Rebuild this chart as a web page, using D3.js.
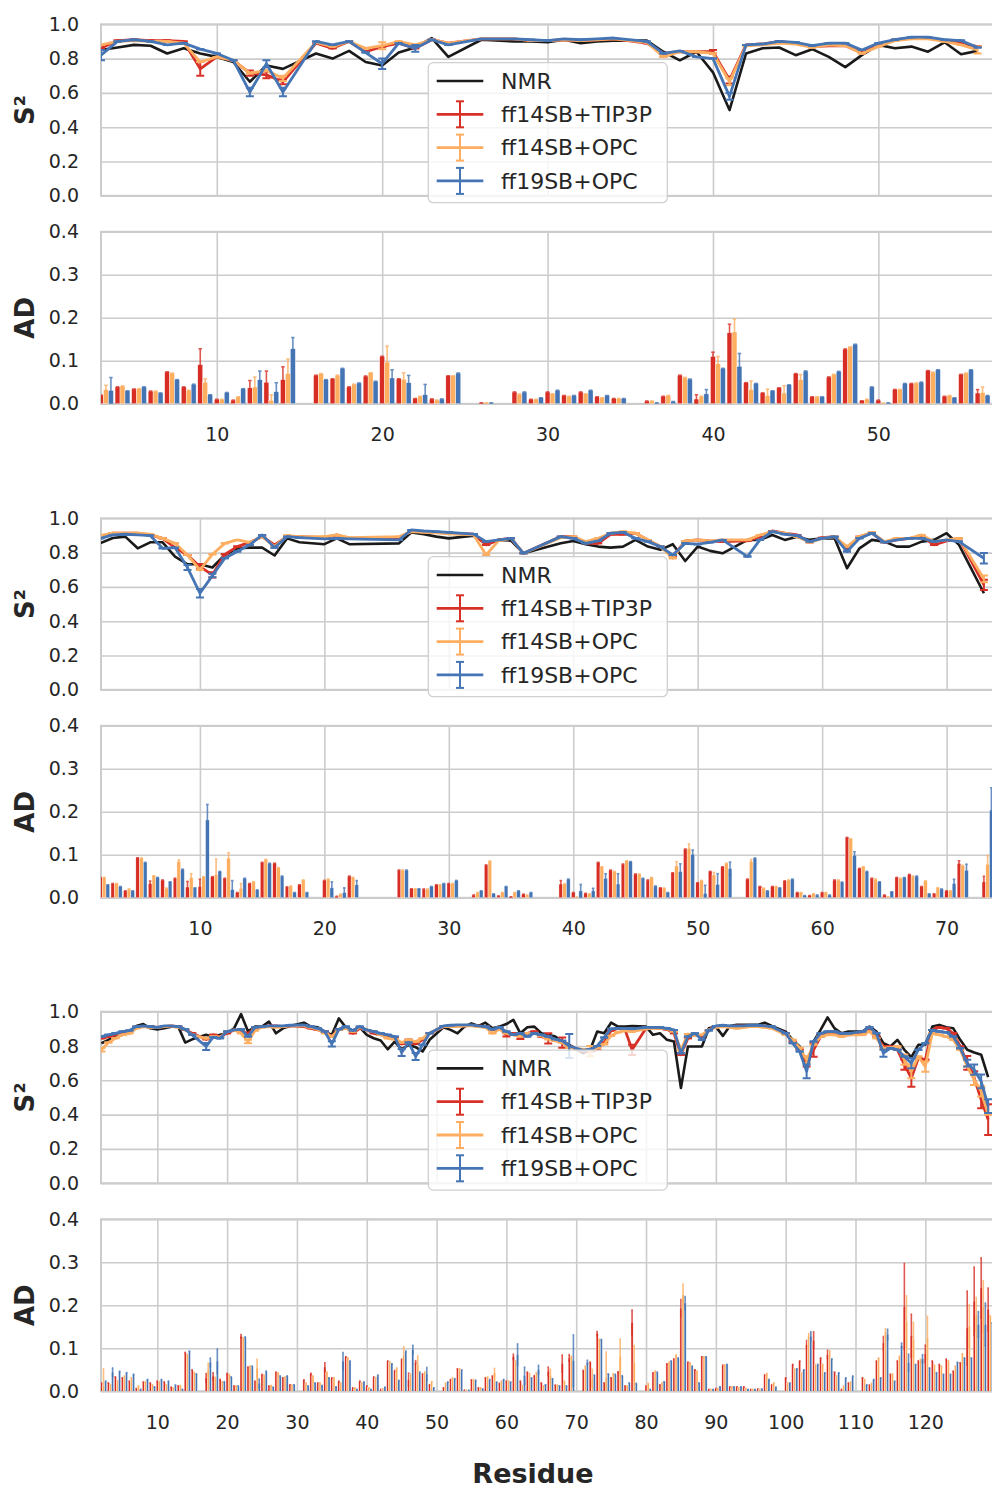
<!DOCTYPE html>
<html>
<head>
<meta charset="utf-8">
<script src="https://cdn.jsdelivr.net/npm/d3@7"></script>
<style>
  body { margin: 0; background: #fff; }
  text { font-family: "DejaVu Sans", sans-serif; }
</style>
</head>
<body>
<svg id="fig" width="992" height="1488"></svg>
<script>
// ---------- Protein 1 : residues 3..56 ----------
const first1 = 3;
const s2Nmr1 = [.85,.865,.88,.875,.83,.86,.83,.81,.78,.665, .76,.74,null,.83,.80,.845,.78,.76,.835,.865,
  .92,.81,null,.91,null,.90,.90,.895,.91,.89, .90,.905,null,.905,.84,.79,.84,.72,.50,.83,
  .86,.865,.82,.855,.81,.75,.82,.88,.86,.87, .84,.895,.825,.845];
const s2Tip1 = [.86,.905,.91,.905,.905,.90,.74,.81,.79,.715, .705,.665,null,.89,.86,.90,.84,.87,.89,.86,
  .91,.89,null,.915,null,.915,.905,.905,.91,.905, .91,.915,null,.89,.83,.84,.84,.84,.675,.88,
  .885,.90,.89,.87,.875,.875,.835,.88,.91,.92, .92,.905,.89,.87];
const s2Opc1 = [.88,.90,.905,.90,.90,.89,.78,.81,.79,.715, .73,.685,null,.895,.87,.90,.86,.875,.90,.88,
  .91,.89,null,.915,null,.915,.905,.905,.91,.905, .91,.915,null,.895,.81,.84,.84,.83,.665,.875,
  .88,.89,.885,.865,.88,.875,.83,.87,.905,.915, .915,.90,.88,.85];
const s2Ff19_1 = [.82,.90,.91,.90,.88,.89,.855,.83,.79,.605, .77,.605,null,.90,.88,.90,.835,.77,.89,.86,
  .91,.88,null,.915,null,.915,.91,.905,.915,.91, .915,.92,null,.90,.83,.845,.81,.80,.58,.88,
  .885,.90,.895,.875,.89,.89,.85,.89,.91,.925, .925,.91,.905,.865];
const adTip1 = [.02,.039,.034,.029,.074,.039,.091,.01,.008,.037, .05,.056,null,.066,.058,.039,.064,.11,.058,.012,
  .011,.065,null,.002,null,.027,.01,.027,.019,.027, .016,.012,null,.006,.017,.066,.011,.11,.165,.049,
  .025,.037,.07,.016,.062,.127,.007,.008,.033,.047, .077,.017,.068,.025];
const adOpc1 = [.033,.041,.035,.029,.071,.031,.05,.01,.016,.039, .008,.07,null,.07,.066,.045,.072,.097,.057,.017,
  .008,.065,null,.002,null,.022,.01,.023,.017,.023, .014,.012,null,.006,.019,.061,.017,.093,.167,.033,
  .019,.025,.056,.016,.068,.132,.01,.001,.033,.048, .073,.019,.071,.026];
const adFf19_1 = [.031,.03,.039,.025,.056,.045,.021,.026,.035,.056, .028,.128,null,.056,.082,.048,.052,.06,.049,.021,
  .011,.071,null,.002,null,.027,.014,.031,.019,.031, .019,.012,null,.002,.005,.057,.023,.082,.087,.047,
  .03,.044,.076,.016,.075,.138,.039,.002,.047,.05, .079,.014,.079,.019];
// visible error bars: [residue, error]
const s2ErrTip1 = [[9,.04],[12,.015],[13,.02],[14,.015],[40,.01],[41,.02]];
const s2ErrOpc1 = [[14,.015],[20,.02],[41,.02],[56,.02]];
const s2ErrFf19_1 = [[3,.03],[12,.025],[13,.02],[14,.025],[20,.03],[22,.02],[41,.02]];
const adErrTip1 = [[9,.037],[12,.017],[13,.026],[14,.03],[39,.01],[40,.01],[41,.02],[56,.008]];
const adErrOpc1 = [[3,.01],[9,.008],[12,.023],[13,.013],[14,.034],[20,.037],[21,.015],[40,.017],[41,.03],[42,.02],[43,.015],[44,.017],[45,.012],[56,.013]];
const adErrFf19_1 = [[3,.03],[12,.02],[13,.021],[14,.026],[20,.019],[21,.017],[22,.024],[39,.01],[41,.03]];

// ---------- Protein 2 : residues 2..73 ----------
const first2 = 2;
const s2Nmr2 = [.855,.885,.893,.825,.86,.86,.777,.732,.732,.713, .786,.825,.829,.829,.783,.883,.86,null,.849,.883,
  .849,null,null,null,.854,.918,.907,.893,.883,null, .899,.854,.874,.87,.796,null,null,.854,.868,.849,
  .835,.829,.835,.874,.835,.816,.849,.751,.835,.81, .796,null,.874,.874,.903,.874,.893,.874,.883,.883,
  .709,.825,.874,.864,.835,.835,.864,.874,.913,.845, null,.563];
const s2Tip2 = [.893,.913,.913,.913,.903,.883,.829,.786,.718,.67, .79,.835,.86,.893,.845,.893,.893,null,.887,.903,
  .883,null,null,null,.887,.926,.922,.918,.913,null, .907,.845,.874,.883,.796,null,null,.893,.893,.854,
  .854,.907,.907,.913,.874,.835,.777,.868,.874,.868, .864,null,.868,.893,.926,.913,.903,.86,.887,.893,
  .825,.893,.913,.86,.874,.883,.893,.845,.868,.883, null,.612];
const s2Opc2 = [.899,.913,.913,.913,.907,.883,.854,.786,.699,.79, .854,.874,.86,.893,.835,.899,.893,null,.893,.903,
  .887,null,null,null,.893,.922,.918,.915,.91,null, .903,.786,.87,.883,.796,null,null,.887,.893,.864,
  .883,.913,.922,.913,.874,.835,.767,.868,.874,.868, .874,null,.874,.903,.922,.913,.893,.86,.883,.893,
  .835,.893,.918,.864,.883,.883,.903,.864,.874,.883, null,.647];
const s2Ff19_2 = [.883,.903,.907,.903,.899,.825,.829,.713,.563,.666, .767,.806,.845,.903,.829,.893,.887,null,.88,.883,
  .88,null,null,null,.874,.932,.926,.922,.918,null, .908,.864,.874,.883,.796,null,null,.893,.883,.854,
  .868,.913,.918,.883,.864,.835,.786,.854,.849,.86, .874,null,.777,.874,.922,.907,.899,.864,.883,.893,
  .806,.883,.913,.86,.874,.883,.883,.864,.874,.864, null,.767];
const adTip2 = [.047,.033,.016,.093,.033,.041,.045,.025,.026,.049, .045,.012,.033,.082,.08,.025,.03,null,.04,.003,
  .05,null,null,null,.064,.021,.02,.03,.033,null, .006,.076,.004,.002,.008,null,null,.032,.012,.01,
  .082,.064,.078,.055,.041,.023,.058,.113,.035,.061, .072,null,.043,.026,.026,.039,.012,.005,.012,.041,
  .14,.068,.045,.006,.047,.054,.026,.009,.016,.08, null,.037];
const adOpc2 = [.047,.033,.02,.092,.051,.022,.084,.047,.049,.054, .092,.022,.037,.089,.07,.027,.041,null,.043,.008,
  .047,null,null,null,.064,.021,.02,.03,.033,null, .012,.085,.012,.012,.006,null,null,.032,.001,.009,
  .072,.061,.086,.055,.047,.022,.074,.115,.04,.053, .08,null,.084,.022,.026,.041,.012,.009,.012,.041,
  .137,.072,.043,.002,.045,.05,.039,.023,.016,.075, null,.078];
const adFf19_2 = [.03,.026,.016,.082,.047,.037,.066,.023,.181,.061, .019,.045,.018,.08,.05,.012,.012,null,.023,.012,
  .03,null,null,null,.064,.021,.026,.033,.04,null, .016,.009,.026,.016,.012,null,null,.043,.016,.016,
  .045,.032,.084,.045,.027,.012,.061,.101,.01,.031, .068,null,.092,.016,.023,.043,.005,.006,.006,.036,
  .099,.061,.037,.014,.047,.05,.009,.02,.033,.064, null,.204];
const s2ErrTip2 = [[10,.015],[11,.015],[73,.03]];
const s2ErrOpc2 = [[73,.02]];
const s2ErrFf19_2 = [[9,.015],[10,.025],[11,.01],[73,.03]];
const adErrTip2 = [[6,.006],[9,.013],[10,.017],[39,.008],[71,.006],[73,.013]];
const adErrOpc2 = [[8,.004],[9,.009],[11,.036],[12,.013],[13,.011],[48,.01],[49,.01],[51,.006],[54,.005],[73,.02]];
const adErrFf19_2 = [[10,.036],[12,.021],[20,.014],[21,.011],[22,.01],[40,.015],[41,.006],[42,.011],[43,.024],
  [48,.018],[49,.01],[50,.019],[51,.025],[52,.015],[62,.008],[70,.01],[71,.014],[73,.052]];

// ---------- Protein 3 : residues 2..129 ----------
const first3 = 2;
const s2Nmr3 = [.816,.836,.851,.865,.874,.917,.928,.903,.897,.903, .913,.913,.82,.839,null,.865,.851,.865,.874,.903,
  .986,.884,.913,.913,.942,.874,.903,.917,null,.936, .913,.909,.884,.865,.961,.909,.89,.909,.865,.845,
  .832,.781,.826,.781,.807,.793,.768,.836,null,.909, .894,.874,.913,.932,.917,.936,.903,.913,.928,.952,
  .874,.909,.913,.874,.865,.855,.826,.807,null,.758, .778,.884,.874,.936,.913,.913,.917,null,.913,.865,
  .874,.836,.826,.555,.797,.797,.797,.903,.913,.859, .917,.923,.923,.923,.923,.936,.917,null,.884,.836,
  .797,.671,.826,.894,.967,.903,.874,.884,null,.884, .913,.884,.816,.797,.836,.778,.735,.807,.807,.913,
  .923,.909,.903,.836,.778,.762,.749,.619];
const s2Tip3 = [.845,.855,.865,.874,.884,.909,.913,.913,.909,.913, .917,.913,.894,.874,null,.839,.865,.855,.874,.894,
  .884,.874,.903,.913,.917,.917,.913,.917,null,.913, .903,.894,.884,.855,.897,.909,.874,.903,.894,.874,
  .865,.855,.851,.812,.836,.812,.836,.874,null,.913, .917,.917,.917,.921,.917,.913,.894,.903,.865,.874,
  .851,.874,.884,.855,.845,.836,.82,.797,null,.77, .77,.778,.82,.89,.903,.894,.778,null,.903,.909,
  .903,.897,.874,.749,.845,.87,.855,.894,.913,.917, .913,.917,.917,.917,.917,.917,.909,null,.874,.826,
  .781,.70,.778,.855,.874,.874,.865,.865,null,.874, .894,.855,.797,.797,.778,.691,.613,.729,.72,.894,
  .909,.903,.874,.797,.702,.613,.487,.371];
const s2Opc3 = [.778,.82,.845,.865,.874,.903,.913,.909,.909,.913, .917,.909,.897,.865,null,.845,.855,.851,.884,.894,
  .874,.826,.89,.909,.913,.909,.913,.917,null,.917, .909,.897,.874,.855,.894,.903,.884,.909,.894,.884,
  .865,.845,.84,.82,.836,.826,.845,.874,null,.913, .913,.913,.917,.917,.913,.909,.874,.897,.874,.865,
  .855,.874,.874,.86,.84,.83,.82,.79,null,.78, .77,.79,.81,.86,.88,.89,.884,null,.9,.903,
  .903,.9,.884,.778,.87,.86,.865,.894,.909,.913, .909,.903,.909,.913,.913,.909,.903,null,.865,.836,
  .79,.72,.807,.855,.865,.865,.855,.865,null,.865, .884,.845,.787,.79,.797,.72,.652,.739,.68,.874,
  .865,.855,.836,.778,.681,.603,.536,.40];
const s2Ff19_3 = [.855,.865,.874,.884,.89,.913,.917,.913,.909,.917, .917,.913,.897,.865,null,.797,.851,.845,.884,.894,
  .897,.855,.909,.913,.917,.917,.917,.921,null,.923, .913,.903,.884,.812,.897,.913,.89,.913,.894,.884,
  .874,.865,.855,.762,.82,.739,.807,.874,null,.917, .921,.923,.923,.923,.917,.913,.897,.909,.884,.865,
  .874,.855,.874,.865,.855,.84,.83,.80,null,.775, .78,.80,.85,.90,.903,.903,.90,null,.909,.909,
  .909,.903,.894,.758,.855,.874,.836,.89,.917,.921, .917,.917,.917,.921,.921,.917,.913,null,.874,.816,
  .768,.652,.826,.874,.884,.884,.874,.874,null,.884, .909,.874,.758,.787,.778,.739,.70,.778,.816,.894,
  .884,.88,.855,.787,.70,.662,.594,.449];
const adTip3 = [.019,.019,.033,.031,.023,.006,.021,.019,.023,.021, .009,.012,.09,.049,null,.031,.035,.027,.041,.012,
  .128,.056,.023,.039,.012,.044,.031,.015,null,.026, .041,.019,.056,.031,.023,.08,.008,.023,.012,.033,
  .004,.07,.048,.074,.027,.066,.04,.015,null,.008, .027,.052,.002,.026,.008,.031,.035,.018,.023,.08,
  .023,.044,.036,.019,.046,.014,.064,.077,null,.048, .067,.134,.019,.031,.045,.012,.159,null,.012,.043,
  .015,.064,.075,.193,.067,.05,.08,.004,.006,.06, .01,.01,.01,.004,.005,.038,.015,null,.031,.062,
  .07,.108,.118,.077,.085,.044,.004,.019,null,.031, .014,.07,.112,.039,.07,.197,.129,.07,.087,.07,
  .062,.074,.046,.066,.147,.209,.24,.19];
const adOpc3 = [.012,.015,.023,.035,.031,.012,.022,.015,.022,.014, .008,.013,.085,.043,null,.05,.032,.021,.039,.012,
  .124,.058,.054,.037,.013,.043,.033,.014,null,.019, .035,.019,.044,.031,.019,.077,.008,.019,.008,.031,
  .005,.068,.054,.083,.039,.062,.044,.022,null,.019, .031,.052,.002,.027,.008,.033,.043,.023,.023,.07,
  .013,.041,.043,.012,.036,.014,.023,.081,null,.058, .031,.12,.031,.04,.081,.012,.066,null,.018,.046,
  .019,.067,.084,.224,.066,.046,.08,.004,.006,.061, .01,.008,.006,.004,.004,.041,.019,null,.019,.052,
  .043,.129,.062,.062,.093,.035,.012,.021,null,.027, .018,.077,.137,.04,.081,.162,.12,.074,.124,.06,
  .058,.07,.058,.087,.151,.178,.197,.175];
const adFf19_3 = [.023,.044,.046,.043,.039,.004,.027,.01,.027,.023, .014,.004,.093,.04,null,.067,.07,.022,.033,.012,
  .126,.058,.018,.046,.009,.035,.035,.015,null,.012, .019,.013,.031,.01,.07,.07,.004,.021,.004,.037,
  .009,.064,.025,.093,.097,.044,.04,.008,null,.021, .029,.049,.002,.025,.005,.027,.021,.027,.021,.085,
  .036,.031,.05,.015,.029,.012,.012,.071,null,.067, .037,.12,.04,.039,.036,.019,.018,null,.004,.044,
  .022,.07,.077,.205,.058,.019,.08,.004,.01,.062, .01,.01,.004,.004,.005,.027,.009,null,.019,.052,
  .05,.128,.062,.043,.075,.043,.031,.035,null,.015, .027,.031,.132,.023,.106,.066,.062,.075,.054,.043,
  .039,.039,.067,.077,.077,.155,.155,.159];
const s2ErrTip3 = [[60,.01],[62,.01],[66,.03],[68,.03],[78,.03],[103,.02],[104,.04],[117,.03],[118,.05],[126,.04],[127,.04],[128,.05],[129,.09]];
const s2ErrOpc3 = [[2,.01],[23,.01],[72,.03],[103,.02],[117,.03],[118,.04],[120,.03],[127,.03],[128,.03]];
const s2ErrFf19_3 = [[17,.02],[35,.015],[45,.02],[47,.02],[69,.07],[103,.04],[114,.02],[118,.03],[126,.02],[127,.03],[128,.04],[129,.04]];
const adErrTip3 = [[17,.01],[18,.008],[22,.004],[34,.01],[46,.015],[47,.005],[61,.006],[66,.01],[68,.02],[69,.008],[73,.005],
  [78,.03],[85,.02],[103,.01],[104,.02],[106,.01],[114,.015],[117,.1],[118,.05],[120,.02],[126,.086],[127,.08],[128,.07],[129,.05]];
const adErrOpc3 = [[2,.04],[17,.015],[24,.02],[45,.02],[47,.02],[58,.01],[66,.015],[72,.02],[74,.06],[76,.04],[78,.04],
  [85,.025],[103,.005],[114,.008],[117,.06],[118,.04],[120,.05],[126,.05],[127,.04],[128,.06]];
const adErrFf19_3 = [[3,.01],[17,.01],[18,.028],[24,.01],[36,.02],[46,.01],[48,.015],[61,.025],[62,.02],[64,.01],[69,.06],
  [71,.005],[85,.015],[103,.01],[114,.012],[116,.006],[117,.02],[119,.01],[127,.03],[128,.05]];

const seriesNames = ["NMR", "ff14SB+TIP3P", "ff14SB+OPC", "ff19SB+OPC"];
const colors = ["#1a1a1a", "#d73027", "#fdae61", "#4575b4"];
const s2Ticks = [0, 0.2, 0.4, 0.6, 0.8, 1.0];
const adTicks = [0, 0.1, 0.2, 0.3, 0.4];

// one entry per protein (layout + references to the arrays above)
const groups = [
  { top: 24.3, first: first1, domain: [3.0, 56.87], ticks: [10, 20, 30, 40, 50],
    nmr: s2Nmr1, s2: [s2Tip1, s2Opc1, s2Ff19_1], s2Err: [s2ErrTip1, s2ErrOpc1, s2ErrFf19_1],
    ad: [adTip1, adOpc1, adFf19_1], adErr: [adErrTip1, adErrOpc1, adErrFf19_1] },
  { top: 518.3, first: first2, domain: [2.05, 73.65], ticks: [10, 20, 30, 40, 50, 60, 70],
    nmr: s2Nmr2, s2: [s2Tip2, s2Opc2, s2Ff19_2], s2Err: [s2ErrTip2, s2ErrOpc2, s2ErrFf19_2],
    ad: [adTip2, adOpc2, adFf19_2], adErr: [adErrTip2, adErrOpc2, adErrFf19_2] },
  { top: 1011.7, first: first3, domain: [1.94, 129.55], ticks: [10, 20, 30, 40, 50, 60, 70, 80, 90, 100, 110, 120],
    nmr: s2Nmr3, s2: [s2Tip3, s2Opc3, s2Ff19_3], s2Err: [s2ErrTip3, s2ErrOpc3, s2ErrFf19_3],
    ad: [adTip3, adOpc3, adFf19_3], adErr: [adErrTip3, adErrOpc3, adErrFf19_3] }
];

const svg = d3.select("#fig");
const L = 101, R = 992, W = R - L;
const gridColor = "#cccccc", textColor = "#262626";
const barWidth = 0.3;

groups.forEach((grp, gi) => {
  const T = grp.top;
  const x = d3.scaleLinear().domain(grp.domain).range([L, R]);
  const yS = d3.scaleLinear().domain([0, 1]).range([T + 171.5, T]);
  const yA = d3.scaleLinear().domain([0, 0.4]).range([T + 379.5, T + 207.5]);
  const g = svg.append("g");

  // The two panels of this protein
  const panels = [
    { key: "s", y: yS, ticks: s2Ticks, y0: T, y1: T + 171.5, label: "S\u00b2" },
    { key: "a", y: yA, ticks: adTicks, y0: T + 207.5, y1: T + 379.5, label: "AD" }
  ];

  panels.forEach(p => {
    svg.append("clipPath").attr("id", `clip-${p.key}${gi}`)
      .append("rect").attr("x", L).attr("y", p.y0).attr("width", W + 20).attr("height", p.y1 - p.y0);

    // Horizontal grid
    g.append("g").attr("transform", `translate(${L},0)`)
      .call(d3.axisLeft(p.y).tickValues(p.ticks).tickSize(-W - 20).tickFormat(""))
      .call(a => a.select(".domain").remove())
      .selectAll("line").attr("stroke", gridColor).attr("stroke-width", 1.6);

    // Vertical grid
    g.append("g").attr("transform", `translate(0,${p.y1})`)
      .call(d3.axisBottom(x).tickValues(grp.ticks).tickSize(-(p.y1 - p.y0)).tickFormat(""))
      .call(a => a.select(".domain").remove())
      .selectAll("line").attr("stroke", gridColor).attr("stroke-width", 1.6);

    // Frame
    g.append("rect").attr("x", L).attr("y", p.y0).attr("width", W + 20).attr("height", p.y1 - p.y0)
      .attr("fill", "none").attr("stroke", gridColor).attr("stroke-width", 2);

    // Y tick labels
    g.append("g").attr("transform", `translate(${L},0)`)
      .call(d3.axisLeft(p.y).tickValues(p.ticks).tickSize(0).tickPadding(22).tickFormat(d3.format(".1f")))
      .call(a => a.select(".domain").remove())
      .selectAll("text").attr("font-size", 19).attr("fill", textColor)
      .style("font-family", "DejaVu Sans");

    // Y axis label
    g.append("text")
      .attr("transform", `translate(25,${(p.y0 + p.y1) / 2}) rotate(-90)`)
      .attr("text-anchor", "middle").attr("dy", "0.35em")
      .attr("font-size", 26).attr("font-weight", "bold").attr("fill", textColor)
      .text(p.label);
  });

  // X tick labels under the AD panel
  g.append("g").attr("transform", `translate(0,${T + 379.5})`)
    .call(d3.axisBottom(x).tickValues(grp.ticks).tickSize(0).tickPadding(24))
    .call(a => a.select(".domain").remove())
    .selectAll("text").attr("font-size", 19).attr("fill", textColor)
    .style("font-family", "DejaVu Sans");

  // ---- S2 panel ----
  const sG = g.append("g").attr("clip-path", `url(#clip-s${gi})`);
  const line = d3.line().x(d => x(d.r)).y(d => yS(d.v));
  const toPts = arr => arr.map((v, i) => ({ r: grp.first + i, v })).filter(d => d.v !== null);

  sG.append("path").datum(toPts(grp.nmr))
    .attr("fill", "none").attr("stroke", colors[0]).attr("stroke-width", 2.6)
    .attr("stroke-linejoin", "round").attr("d", line);

  grp.s2.forEach((arr, k) => {
    const col = colors[k + 1];
    const errs = new Map(grp.s2Err[k]);
    const pts = toPts(arr);
    sG.append("path").datum(pts)
      .attr("fill", "none").attr("stroke", col).attr("stroke-width", 2.8)
      .attr("stroke-linejoin", "round").attr("d", line);
    const eb = sG.append("g").attr("stroke", col).attr("stroke-width", 2);
    pts.forEach(d => {
      const e = errs.get(d.r) || 0;
      const cx = x(d.r);
      if (e > 0) {
        eb.append("line").attr("x1", cx).attr("x2", cx).attr("y1", yS(d.v - e)).attr("y2", yS(d.v + e));
      }
      [d.v - e, d.v + e].forEach(vv => {
        eb.append("line").attr("x1", cx - 4).attr("x2", cx + 4).attr("y1", yS(vv)).attr("y2", yS(vv));
      });
    });
  });

  // Legend
  const lg = g.append("g");
  lg.append("rect").attr("x", 428.3).attr("y", T + 38.4).attr("width", 239).attr("height", 140).attr("rx", 5)
    .attr("fill", "#fff").attr("fill-opacity", 0.8).attr("stroke", "#d0d0d0").attr("stroke-width", 1.3);
  seriesNames.forEach((name, i) => {
    const ly = T + 56.7 + i * 33.3;
    lg.append("line").attr("x1", 436.7).attr("x2", 483.3).attr("y1", ly).attr("y2", ly)
      .attr("stroke", colors[i]).attr("stroke-width", i === 0 ? 2.6 : 2.8);
    if (i > 0) {
      lg.append("line").attr("x1", 460).attr("x2", 460).attr("y1", ly - 13).attr("y2", ly + 13)
        .attr("stroke", colors[i]).attr("stroke-width", 2);
      [ly - 13, ly + 13].forEach(cy => {
        lg.append("line").attr("x1", 456).attr("x2", 464).attr("y1", cy).attr("y2", cy)
          .attr("stroke", colors[i]).attr("stroke-width", 2);
      });
    }
    lg.append("text").attr("x", 501).attr("y", ly).attr("dy", "0.35em")
      .attr("font-size", 22).attr("fill", textColor).text(name);
  });

  // ---- AD panel ----
  const aG = g.append("g").attr("clip-path", `url(#clip-a${gi})`);
  grp.ad.forEach((arr, k) => {
    const col = colors[k + 1];
    const errs = new Map(grp.adErr[k]);
    const off = k * barWidth;
    const pts = toPts(arr);
    aG.append("g").selectAll("rect").data(pts).join("rect")
      .attr("x", d => x(d.r + off - barWidth / 2))
      .attr("width", d => x(d.r + off + barWidth / 2) - x(d.r + off - barWidth / 2))
      .attr("y", d => yA(d.v))
      .attr("height", d => yA(0) - yA(d.v))
      .attr("fill", col).attr("stroke", "#fff").attr("stroke-width", 0.4);
    const eb = aG.append("g").attr("stroke", col).attr("stroke-width", 1.6).attr("opacity", 0.8);
    const capHalf = (x(barWidth) - x(0)) * 0.35;
    pts.forEach(d => {
      const e = errs.get(d.r) || 0;
      const cx = x(d.r + off);
      if (e > 0) {
        eb.append("line").attr("x1", cx).attr("x2", cx).attr("y1", yA(Math.max(0, d.v - e))).attr("y2", yA(d.v + e));
      }
      [d.v - e, d.v + e].forEach(vv => {
        if (vv < 0) return;
        eb.append("line").attr("x1", cx - capHalf).attr("x2", cx + capHalf).attr("y1", yA(vv)).attr("y2", yA(vv));
      });
    });
  });
});

// X axis title
svg.append("text").attr("x", 533).attr("y", 1483)
  .attr("text-anchor", "middle").attr("font-size", 27).attr("font-weight", "bold")
  .attr("fill", textColor).text("Residue");
</script>
</body>
</html>
